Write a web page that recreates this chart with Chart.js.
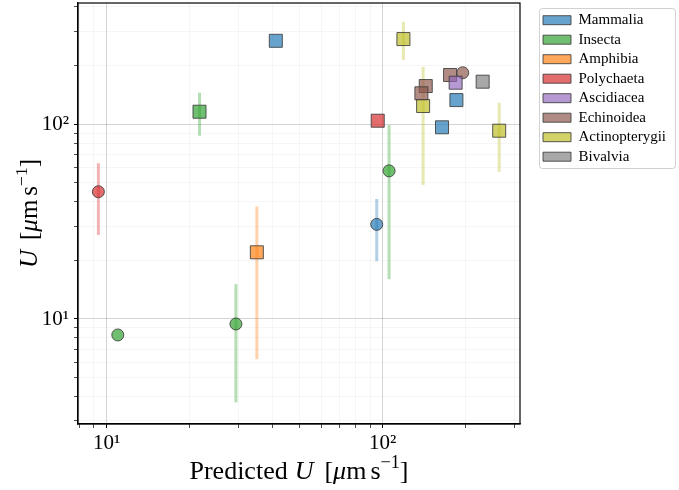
<!DOCTYPE html>
<html><head><meta charset="utf-8">
<script src="https://cdn.jsdelivr.net/npm/chart.js@4.4.0/dist/chart.umd.min.js"></script>
<style>html,body{margin:0;padding:0;background:#fff}#wrap{width:679px;height:490px;position:relative}</style>
</head><body><div id="wrap"><canvas id="c"></canvas></div>
<script>
// ---- data ----
const categories = ['Mammalia','Insecta','Amphibia','Polychaeta','Ascidiacea','Echinoidea','Actinopterygii','Bivalvia'];
const categoryRGB = ['31,119,180','44,160,44','255,127,14','214,39,40','148,103,189','140,86,75','188,189,34','127,127,127'];
// one entry per point
const pointCategory = [0,0,0,0, 1,1,1,1, 2, 3,3, 4, 5,5,5,5, 6,6,6, 7];
const predictedU    = [41.0,184.8,163.9,95.1, 21.7,105.4,29.4,10.98, 35.0, 9.34,95.9, 183.6, 175.3,194.8,143.1,138.0, 118.8,140.0,264.0, 230.0];
const observedU     = [268,133,96.4,30.6, 115.9,57.6,9.43,8.28, 22.0, 45.0,104.2, 163.3, 178.9,183.7,157.0,144.1, 273.6,124.0,92.6, 165.3];
const markerType    = ['rect','rect','rect','circle', 'rect','circle','circle','circle', 'rect', 'circle','rect', 'rect', 'rect','circle','rect','rect', 'rect','rect','rect', 'rect'];
const errLow        = [null,null,null,19.8, 87.3,16.0,3.73,null, 6.22, 27.0,null, null, null,null,null,null, 213.8,48.7,57.0, null];
const errHigh       = [null,null,null,41.3, 145,99.0,15.1,null, 37.8, 63.0,null, null, null,null,null,null, 335.6,197,128.8, null];
const xTickValues = [8,9,10,20,30,40,50,60,70,80,90,100,200,300];
const yTickValues = [3,4,5,6,7,8,9,10,20,30,40,50,60,70,80,90,100,200,300,400];
const tickLabels = {10:'10¹', 100:'10²'};
const xRange = [7.88, 314];
const yRange = [2.89, 419];

const FONT = '"Liberation Serif", "DejaVu Serif", serif';
const isPow10 = v => Math.abs(Math.log10(v) - Math.round(Math.log10(v))) < 1e-9;

// ---- datasets ----
const datasets = [];
categories.forEach((name, ci) => {
  const idx = pointCategory.map((c,i)=>c===ci?i:-1).filter(i=>i>=0);
  datasets.push({
    type: 'scatter',
    label: name,
    data: idx.map(i => ({x: predictedU[i], y: observedU[i]})),
    pointStyle: idx.map(i => markerType[i]),
    pointRadius: idx.map(i => markerType[i]==='rect' ? 9.2 : 6),
    pointHoverRadius: idx.map(i => markerType[i]==='rect' ? 9.2 : 6),
    backgroundColor: 'rgba(' + categoryRGB[ci] + ',0.68)',
    borderColor: 'rgba(60,60,60,0.85)',
    borderWidth: 1,
    pointBorderWidth: 1,
    order: 0
  });
});
predictedU.forEach((x, i) => {
  if (errLow[i] === null) return;
  datasets.push({
    type: 'line',
    label: 'err',
    isErr: true,
    data: [{x: x, y: errLow[i]}, {x: x, y: errHigh[i]}],
    borderColor: 'rgba(' + categoryRGB[pointCategory[i]] + ',0.35)',
    borderWidth: 3,
    borderCapStyle: 'butt',
    pointRadius: 0,
    pointHoverRadius: 0,
    fill: false,
    order: 1
  });
});

// ---- rich text axis titles ----
function drawRich(ctx, parts, size) {
  const widths = parts.map(p => {
    if (p.gap) return p.gap;
    const s = p.sup ? size * 0.7 : size;
    ctx.font = (p.italic ? 'italic ' : '') + s + 'px ' + FONT;
    return ctx.measureText(p.t).width;
  });
  const total = widths.reduce((a,b)=>a+b,0);
  let x = -total/2;
  parts.forEach((p, k) => {
    if (!p.gap) {
      const s = p.sup ? size * 0.7 : size;
      ctx.font = (p.italic ? 'italic ' : '') + s + 'px ' + FONT;
      ctx.fillText(p.t, x, p.sup ? -size*0.42 : 0);
    }
    x += widths[k];
  });
}
const xTitleParts = [{t:'Predicted'},{gap:7},{t:'U',italic:true},{gap:11},{t:'['},{t:'μ',italic:true},{t:'m'},{gap:4},{t:'s'},{t:'−1',sup:true},{t:']'}];
const yTitleParts = [{t:'U',italic:true},{gap:10},{t:'['},{t:'μ',italic:true},{t:'m'},{gap:4},{t:'s'},{t:'−1',sup:true},{t:']'}];

const decor = {
  id: 'decor',
  afterDraw(chart) {
    const {ctx, chartArea: a} = chart;
    ctx.save();
    // plot frame
    ctx.strokeStyle = '#000'; ctx.lineWidth = 1.2;
    ctx.strokeRect(a.left, a.top, a.right - a.left, a.bottom - a.top);
    // legend frame
    const lg = chart.legend;
    ctx.strokeStyle = 'rgba(0,0,0,0.18)'; ctx.lineWidth = 1;
    const fx = lg.left + 1, fy = 8.5, fw = 136, fh = 160, r = 3;
    ctx.beginPath();
    ctx.moveTo(fx + r, fy); ctx.lineTo(fx + fw - r, fy); ctx.arcTo(fx+fw, fy, fx+fw, fy+r, r);
    ctx.lineTo(fx+fw, fy+fh-r); ctx.arcTo(fx+fw, fy+fh, fx+fw-r, fy+fh, r);
    ctx.lineTo(fx+r, fy+fh); ctx.arcTo(fx, fy+fh, fx, fy+fh-r, r);
    ctx.lineTo(fx, fy+r); ctx.arcTo(fx, fy, fx+r, fy, r);
    ctx.stroke();
    // axis titles
    ctx.fillStyle = '#000'; ctx.textBaseline = 'alphabetic'; ctx.textAlign = 'left';
    ctx.save(); ctx.translate((a.left + a.right)/2, 479); drawRich(ctx, xTitleParts, 26); ctx.restore();
    ctx.save(); ctx.translate(37, (a.top + a.bottom)/2); ctx.rotate(-Math.PI/2); drawRich(ctx, yTitleParts, 25); ctx.restore();
    ctx.restore();
  }
};

const gridColor = c => (c.tick && isPow10(c.tick.value)) ? 'rgba(0,0,0,0.17)' : 'rgba(0,0,0,0.055)';
const tickW = c => (c.tick && isPow10(c.tick.value)) ? 1 : 0.7;

new Chart(document.getElementById('c'), {
  data: { datasets },
  options: {
    responsive: true, maintainAspectRatio: false, animation: false, events: [],
    layout: { autoPadding: false, padding: { left: 0, top: 3, right: 6.5, bottom: 0 } },
    scales: {
      x: {
        type: 'logarithmic', position: 'bottom', min: xRange[0], max: xRange[1],
        afterBuildTicks: s => { s.ticks = xTickValues.filter(v => v >= s.min && v <= s.max).map(v => ({value: v})); },
        afterFit: s => { s.height = 66; s.paddingLeft = 0; s.paddingRight = 0; },
        ticks: { autoSkip: false, maxRotation: 0, padding: 3, color: '#000',
          font: { family: FONT, size: 21 }, callback: v => tickLabels[v] || '' },
        grid: { color: gridColor, lineWidth: tickW, tickLength: 4, tickColor: '#000', tickWidth: tickW },
        border: { display: true, color: '#000', width: 1.2 }
      },
      y: {
        type: 'logarithmic', position: 'left', min: yRange[0], max: yRange[1],
        afterBuildTicks: s => { s.ticks = yTickValues.filter(v => v >= s.min && v <= s.max).map(v => ({value: v})); },
        afterFit: s => { s.width = 78; s.paddingTop = 0; s.paddingBottom = 0; },
        ticks: { autoSkip: false, padding: 5, color: '#000',
          font: { family: FONT, size: 21 }, callback: v => tickLabels[v] || '' },
        grid: { color: gridColor, lineWidth: tickW, tickLength: 4, tickColor: '#000', tickWidth: tickW },
        border: { display: true, color: '#000', width: 1.2 }
      },
      legendGap: {
        type: 'linear', position: 'right', display: true,
        grid: { display: false, drawTicks: false, tickLength: 0 }, border: { display: false },
        ticks: { display: false, padding: 0, font: { size: 1, lineHeight: 1 } },
        afterBuildTicks: s => { s.ticks = []; },
        afterFit: s => { s.width = 18.5; s.paddingTop = 0; s.paddingBottom = 0; }
      }
    },
    plugins: {
      tooltip: { enabled: false },
      legend: {
        position: 'right', align: 'start', maxWidth: 134,
        title: { display: true, text: '', font: { size: 1, lineHeight: 1 }, padding: { top: 4.2, bottom: 0 } },
        labels: {
          boxWidth: 28, boxHeight: 9, padding: 4.5, color: '#000',
          font: { family: FONT, size: 15 },
          filter: (item, data) => !data.datasets[item.datasetIndex].isErr
        }
      }
    }
  },
  plugins: [decor]
});
</script></body></html>
